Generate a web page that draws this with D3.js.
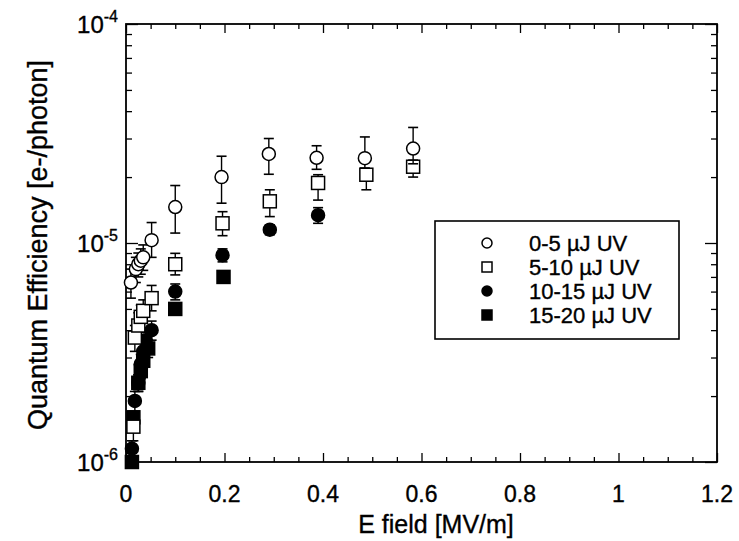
<!DOCTYPE html>
<html><head><meta charset="utf-8">
<script src="https://cdn.jsdelivr.net/npm/d3@7"></script>
<style>body{margin:0;background:#fff}svg{display:block}text{font-family:"Liberation Sans",Arial,Helvetica,sans-serif;fill:#000;stroke:#000;stroke-width:0.35}</style>
</head><body><svg id="c" width="739" height="541"></svg>
<script>
// ---- data ----
const seriesNames = ["0-5 \u00b5J UV", "5-10 \u00b5J UV", "10-15 \u00b5J UV", "15-20 \u00b5J UV"];
const seriesSymbols = ["openCircle", "openSquare", "filledCircle", "filledSquare"];

const s1X  = [0.010, 0.020, 0.025, 0.030, 0.035, 0.052, 0.100, 0.194, 0.290, 0.387, 0.485, 0.583];
const s1Y  = [6.6e-6, 7.6e-6, 8.0e-6, 8.3e-6, 8.6e-6, 1.03e-5, 1.46e-5, 2.0e-5, 2.55e-5, 2.45e-5, 2.44e-5, 2.7e-5];
const s1Lo = [5.6e-6, 6.6e-6, 7.0e-6, 7.2e-6, 7.5e-6, 8.6e-6, 1.11e-5, 1.52e-5, 2.06e-5, 2.17e-5, 2.2e-5, 2.3e-5];
const s1Hi = [7.6e-6, 8.6e-6, 9.0e-6, 9.4e-6, 9.8e-6, 1.24e-5, 1.83e-5, 2.49e-5, 3.0e-5, 2.78e-5, 3.05e-5, 3.37e-5];

const s2X  = [0.015, 0.018, 0.025, 0.030, 0.035, 0.052, 0.100, 0.196, 0.292, 0.390, 0.488, 0.583];
const s2Y  = [1.45e-6, 3.7e-6, 4.2e-6, 4.6e-6, 4.9e-6, 5.6e-6, 8.0e-6, 1.23e-5, 1.55e-5, 1.88e-5, 2.05e-5, 2.23e-5];
const s2Lo = [1.25e-6, 3.2e-6, 3.7e-6, 4.0e-6, 4.3e-6, 4.9e-6, 7.15e-6, 1.08e-5, 1.32e-5, 1.57e-5, 1.75e-5, 2.0e-5];
const s2Hi = [1.65e-6, 4.2e-6, 4.8e-6, 5.2e-6, 5.5e-6, 6.4e-6, 8.97e-6, 1.39e-5, 1.75e-5, 2.05e-5, 2.16e-5, 2.39e-5];

const s3X  = [0.012, 0.018, 0.025, 0.030, 0.035, 0.040, 0.052, 0.100, 0.196, 0.292, 0.390];
const s3Y  = [1.15e-6, 1.9e-6, 2.3e-6, 2.8e-6, 3.2e-6, 3.6e-6, 4.0e-6, 6.0e-6, 8.8e-6, 1.15e-5, 1.34e-5];
const s3Lo = [1.05e-6, 1.7e-6, 2.1e-6, 2.5e-6, 2.9e-6, 3.3e-6, 3.6e-6, 5.5e-6, 8.2e-6, 1.09e-5, 1.23e-5];
const s3Hi = [1.25e-6, 2.1e-6, 2.5e-6, 3.1e-6, 3.5e-6, 3.9e-6, 4.4e-6, 6.5e-6, 9.4e-6, 1.21e-5, 1.45e-5];

const s4X  = [0.012, 0.015, 0.025, 0.030, 0.035, 0.045, 0.100, 0.198];
const s4Y  = [1.0e-6, 1.6e-6, 2.3e-6, 2.6e-6, 2.9e-6, 3.3e-6, 5.0e-6, 7.0e-6];
const s4Lo = [1.0e-6, 1.5e-6, 2.1e-6, 2.4e-6, 2.7e-6, 3.0e-6, 4.7e-6, 6.7e-6];
const s4Hi = [1.1e-6, 1.7e-6, 2.5e-6, 2.8e-6, 3.1e-6, 3.6e-6, 5.3e-6, 7.3e-6];

const xTickValues = [0, 0.2, 0.4, 0.6, 0.8, 1, 1.2];
const xTickLabels = ["0", "0.2", "0.4", "0.6", "0.8", "1", "1.2"];
const yDecades = [1e-6, 1e-5, 1e-4];
const yDecadeExp = ["-6", "-5", "-4"];
const xLabel = "E field [MV/m]";
const yLabel = "Quantum Efficiency [e-/photon]";

// ---- layout ----
const L = 126, R = 717, T = 24, B = 462;
const svg = d3.select("#c");
const x = d3.scaleLinear().domain([0, 1.2]).range([L, R]);
const y = d3.scaleLog().domain([1e-6, 1e-4]).range([B, T]);

// frame
svg.append("rect").attr("x", L).attr("y", T).attr("width", R - L).attr("height", B - T)
  .attr("fill", "none").attr("stroke", "#000").attr("stroke-width", 1.8);

// x ticks (inward, bottom & top)
const xMinor = d3.range(0, 1.2001, 0.05).filter(v => Math.abs(Math.round(v * 5) - v * 5) > 1e-6);
function xAxis(orient, pos, vals, size) {
  const ax = (orient === "bottom" ? d3.axisBottom(x) : d3.axisTop(x))
    .tickValues(vals).tickSizeInner(-size).tickSizeOuter(0).tickFormat("");
  const g = svg.append("g").attr("transform", `translate(0,${pos})`).call(ax);
  g.select(".domain").remove();
  g.selectAll("line").attr("stroke", "#000").attr("stroke-width", 1.3);
}
xAxis("bottom", B, xTickValues, 9);
xAxis("bottom", B, xMinor, 5);
xAxis("top", T, xTickValues, 9);
xAxis("top", T, xMinor, 5);

// y ticks (log)
const yMinor = [];
[1e-6, 1e-5].forEach(d => { for (let k = 2; k <= 9; k++) yMinor.push(d * k); });
function yAxis(orient, pos, vals, size) {
  const ax = (orient === "left" ? d3.axisLeft(y) : d3.axisRight(y))
    .tickValues(vals).tickSizeInner(-size).tickSizeOuter(0).tickFormat("");
  const g = svg.append("g").attr("transform", `translate(${pos},0)`).call(ax);
  g.select(".domain").remove();
  g.selectAll("line").attr("stroke", "#000").attr("stroke-width", 1.3);
}
yAxis("left", L, yDecades, 12);
yAxis("left", L, yMinor, 6);
yAxis("right", R, yDecades, 12);
yAxis("right", R, yMinor, 6);

// x tick labels
svg.append("g").selectAll("text").data(xTickValues).join("text")
  .attr("x", d => x(d)).attr("y", 502).attr("text-anchor", "middle")
  .attr("font-size", 23).text((d, i) => xTickLabels[i]);

// y tick labels 10^n
const yl = svg.append("g").selectAll("text").data(yDecades).join("text")
  .attr("x", 118).attr("y", d => y(d) + 9).attr("text-anchor", "end").attr("font-size", 24);
yl.append("tspan").text("10");
yl.append("tspan").attr("dy", -11).attr("font-size", 16).text((d, i) => yDecadeExp[i]);

// axis titles
svg.append("text").attr("x", 436).attr("y", 533).attr("text-anchor", "middle")
  .attr("font-size", 25).text(xLabel);
svg.append("text").attr("transform", `translate(47,${(T + B) / 2 + 2}) rotate(-90)`)
  .attr("text-anchor", "middle").attr("font-size", 27).text(yLabel);

// symbols
function drawSymbol(g, sym, cx, cy, size) {
  const filled = sym.startsWith("filled");
  if (sym.endsWith("Circle")) {
    g.append("circle").attr("cx", cx).attr("cy", cy).attr("r", size / 2)
      .attr("fill", filled ? "#000" : "#fff").attr("stroke", "#000").attr("stroke-width", 1.5);
  } else {
    g.append("rect").attr("x", cx - size / 2).attr("y", cy - size / 2).attr("width", size).attr("height", size)
      .attr("fill", filled ? "#000" : "#fff").attr("stroke", "#000").attr("stroke-width", 1.5);
  }
}

const allSeries = [
  [s1X, s1Y, s1Lo, s1Hi],
  [s2X, s2Y, s2Lo, s2Hi],
  [s3X, s3Y, s3Lo, s3Hi],
  [s4X, s4Y, s4Lo, s4Hi]
];
const plot = svg.append("g");
[3, 2, 1, 0].forEach(si => {
  const [xs, ys, lo, hi] = allSeries[si];
  const g = plot.append("g");
  xs.forEach((xv, i) => {
    const cx = x(xv);
    const y1 = y(hi[i]), y2 = y(lo[i]);
    g.append("line").attr("x1", cx).attr("x2", cx).attr("y1", y1).attr("y2", y2)
      .attr("stroke", "#000").attr("stroke-width", 1.4);
    [y1, y2].forEach(yy => g.append("line").attr("x1", cx - 5).attr("x2", cx + 5)
      .attr("y1", yy).attr("y2", yy).attr("stroke", "#000").attr("stroke-width", 1.6));
  });
  xs.forEach((xv, i) => drawSymbol(g, seriesSymbols[si], x(xv), y(ys[i]), 13));
});

// legend
const lg = svg.append("g");
lg.append("rect").attr("x", 435).attr("y", 221).attr("width", 244).attr("height", 118)
  .attr("fill", "#fff").attr("stroke", "#000").attr("stroke-width", 1.6);
const rowY = [243, 267, 291, 315];
seriesNames.forEach((name, i) => {
  drawSymbol(lg, seriesSymbols[i], 487, rowY[i], 10);
  lg.append("text").attr("x", 529).attr("y", rowY[i] + 7.5).attr("font-size", 22).text(name);
});
</script></body></html>
